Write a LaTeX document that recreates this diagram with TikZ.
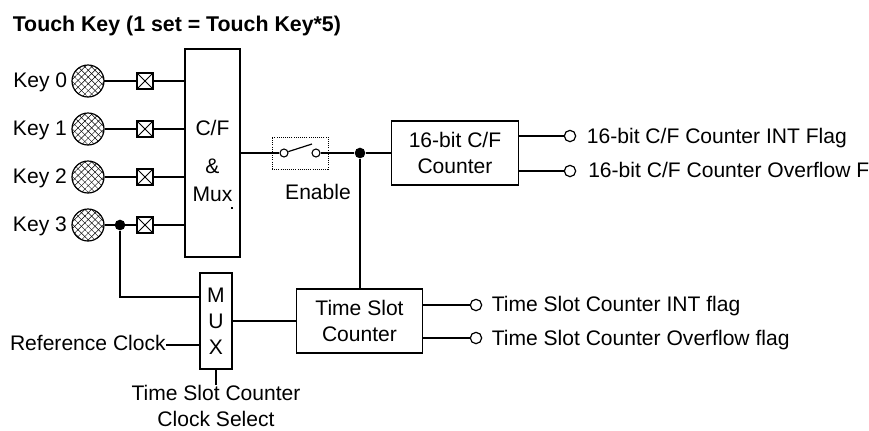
\documentclass[tikz,border=0pt]{standalone}
\usepackage{fontspec}
\setmainfont{Liberation Sans}
\usetikzlibrary{patterns.meta,positioning}
\definecolor{Ink}{HTML}{000000}

\begin{document}
\begin{tikzpicture}[
  x=0.75pt,y=-0.75pt,
  every node/.style={font=\fontsize{15.8}{19.5}\selectfont,text=Ink},
  block/.style={draw=Ink,line width=0.9pt,align=center,inner sep=0pt},
  touchpad/.style={draw=Ink,line width=0.9pt,circle,minimum size=24pt,inner sep=0pt,
    pattern={Lines[angle=45,distance=3.6pt,line width=0.35pt]},pattern color=Ink,
    postaction={pattern={Lines[angle=-45,distance=3.6pt,line width=0.35pt]},pattern color=Ink}},
  pin/.style={draw=Ink,line width=0.9pt,fill=white,minimum size=12pt,inner sep=0pt,path picture={\draw[line width=0.7pt] (path picture bounding box.south west) -- (path picture bounding box.north east) (path picture bounding box.north west) -- (path picture bounding box.south east);}},
  port/.style={draw=Ink,line width=0.8pt,circle,fill=white,minimum size=6pt,inner sep=0pt},
  outport/.style={port,line width=0.9pt,minimum size=8.5pt},
  junction/.style={circle,fill=Ink,minimum size=8pt,inner sep=0pt},
  wire/.style={draw=Ink,line width=0.9pt},
  lbl/.style={inner sep=0pt},
  outlbl/.style={lbl,anchor=base west}
]
\useasboundingbox (0,0) rectangle (869,430);

\node[lbl,anchor=base west,font=\fontsize{16}{19}\selectfont\bfseries] (title) at (12.5,31) {Touch Key (1 set = Touch Key*5)};

% main blocks
\node[block,minimum width=41.25pt,minimum height=156pt] (cfmux) at (212.5,153) {};
\node[lbl,align=center] (cflabel) at (212.5,161) {C/F\\[9pt]\&\\[1.5pt]Mux};
\node[minimum size=1.2pt,inner sep=0pt,fill=Ink] (speck) at (232,208) {};
\node[block,minimum width=95pt,minimum height=48pt] (cfcounter) at (455,153) {16-bit C/F\\Counter};
\node[block,minimum width=95pt,minimum height=48pt] (tscounter) at (359.5,321) {Time Slot\\Counter};
\node[block,minimum width=24pt,minimum height=72pt] (mux) at (216,321) {M\\U\\X};

% keys
\foreach \k/\y in {0/81,1/129,2/177,3/225}{
  \node[touchpad] (key\k) at (88,\y) {};
  \node[pin] (pin\k) at (145,\y) {};
  \node[lbl,left=3.2pt of key\k,yshift=-0.75pt] (keylabel\k) {Key \k};
  \draw[wire] (key\k) -- (pin\k);
  \draw[wire] (pin\k) -- (pin\k -| cfmux.west);
}

% enable switch
\node[draw=Ink,densely dotted,line width=0.6pt,minimum width=42pt,minimum height=24pt,inner sep=0pt] (enablebox) at (300,153) {};
\node[port] (swa) at (284,153) {};
\node[port] (swb) at (316,153) {};
\node[lbl] (enable) at (318,192) {Enable};
\coordinate (swtip) at (312,144);
\node[junction] (cfdot) at (360,153) {};
\draw[wire] (cfmux.east |- swa) -- (swa);
\draw[wire] (swa) -- (swtip);
\draw[wire] (swb) -- (cfdot);
\draw[wire] (cfdot) -- (cfcounter.west |- cfdot);
\draw[wire] (cfdot) -- (cfdot |- tscounter.north);

% counter outputs
\node[outport] (cfint) at (570,136) {};
\node[outport] (cfovf) at (570,171) {};
\node[outport] (tsint) at (476,305) {};
\node[outport] (tsovf) at (476,338) {};
\node[outlbl] (cfintlabel) at (586.7,143) {16-bit C/F Counter INT Flag};
\node[outlbl] (cfovflabel) at (588,177) {16-bit C/F Counter Overflow F};
\node[outlbl] (tsintlabel) at (491.5,311.5) {Time Slot Counter INT flag};
\node[outlbl] (tsovflabel) at (491.5,345) {Time Slot Counter Overflow flag};
\draw[wire] (cfint -| cfcounter.east) -- (cfint);
\draw[wire] (cfovf -| cfcounter.east) -- (cfovf);
\draw[wire] (tsint -| tscounter.east) -- (tsint);
\draw[wire] (tsovf -| tscounter.east) -- (tsovf);

% time slot clock
\node[junction] (keydot) at (120,225) {};
\node[lbl,anchor=east] (refclk) at (166,343) {Reference Clock};
\node[lbl,align=center] (clksel) at (216,406) {Time Slot Counter\\Clock Select};
\draw[wire] (keydot) |- (mux.west |- 0,297);
\draw[wire] (refclk.east |- 0,345) -- (mux.west |- 0,345);
\draw[wire] (mux) -- (tscounter);
\draw[wire] (mux) -- (mux |- clksel.north);
\end{tikzpicture}
\end{document}
